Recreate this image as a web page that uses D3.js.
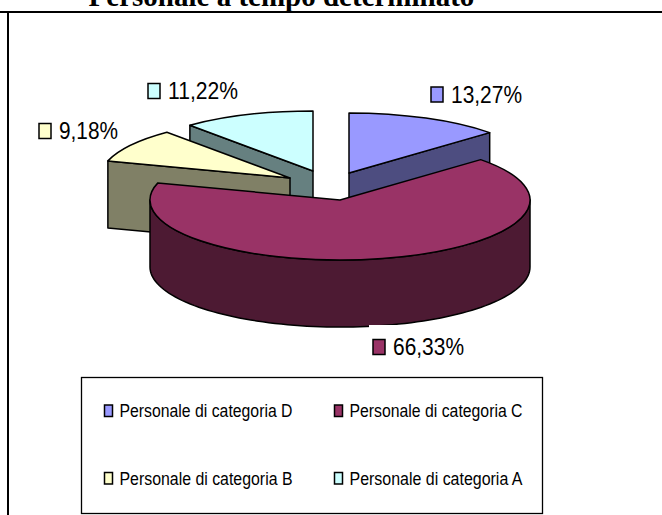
<!DOCTYPE html>
<html>
<head>
<meta charset="utf-8">
<script src="https://cdn.jsdelivr.net/npm/d3@7"></script>
<style>
  html, body { margin: 0; padding: 0; background: #fff; }
  svg { display: block; }
  text { font-family: "Liberation Sans", Arial, sans-serif; fill: #000; }
</style>
</head>
<body>
<svg id="chart" width="662" height="515"></svg>
<script>
const categories = ["Personale di categoria D", "Personale di categoria C", "Personale di categoria B", "Personale di categoria A"];
const values = [13.27, 66.33, 9.18, 11.22];
const valueLabels = ["13,27%", "66,33%", "9,18%", "11,22%"];
const topColors = ["#9999ff", "#993366", "#ffffcc", "#ccffff"];
const sideColors = ["#4d4d80", "#4d1a33", "#808066", "#668080"];
const titleText = "Personale a tempo determinato";

const radius = 190, tilt = 0.316, depth = 67;
// where each exploded slice has its tip
const apex = [[349, 173], [340, 200], [290, 178], [313, 171]];
// label swatch corner and text width
const labelPos = [[431, 87, 71], [373, 339.5, 71], [39, 123.5, 59], [148, 83.5, 70]];

const svg = d3.select("#chart");

// frame
svg.append("line").attr("x1", 0).attr("x2", 662).attr("y1", 12).attr("y2", 12)
  .attr("stroke", "#000").attr("stroke-width", 2);
svg.append("line").attr("x1", 8).attr("x2", 8).attr("y1", 12).attr("y2", 515)
  .attr("stroke", "#000").attr("stroke-width", 2);

svg.append("text").attr("x", 281.5).attr("y", 5.5)
  .attr("text-anchor", "middle")
  .style("font-family", "'Liberation Serif', 'Times New Roman', serif")
  .style("font-weight", "bold").style("font-size", "29px")
  .text(titleText);

const slices = d3.pie().sort(null)(values);
const arc = d3.arc().innerRadius(0).outerRadius(radius);

function project(i, angle, r, z) {
  return [apex[i][0] + r * Math.sin(angle), apex[i][1] - r * tilt * Math.cos(angle) + z];
}

// radial cut face of a slice, seen from the front
function cutFace(i, angle) {
  const tip = project(i, angle, 0, 0), rim = project(i, angle, radius, 0);
  return d3.line()([tip, rim, [rim[0], rim[1] + depth], [tip[0], tip[1] + depth]]) + "Z";
}

// outer wall along the front half of the ellipse
function outerWall(i) {
  const angles = d3.range(Math.PI / 2, Math.PI * 1.5 + 0.001, Math.PI / 90);
  const upper = angles.map(a => project(i, a, radius, 0));
  const lower = angles.map(a => project(i, a, radius, depth)).reverse();
  return d3.line()(upper.concat(lower)) + "Z";
}

const drawSlice = (i, faceAngle) => {
  const g = svg.append("g");
  g.append("path").attr("d", faceAngle !== null ? cutFace(i, faceAngle) : outerWall(i))
    .attr("fill", sideColors[i]).attr("stroke", "#000").attr("stroke-width", 1.5).attr("stroke-linejoin", "round");
  g.append("path").attr("d", arc(slices[i]))
    .attr("transform", `translate(${apex[i][0]},${apex[i][1]}) scale(1,${tilt})`)
    .attr("fill", topColors[i]).attr("stroke", "#000").attr("stroke-width", 1.5)
    .attr("stroke-linejoin", "round").attr("vector-effect", "non-scaling-stroke");
};

// back to front
drawSlice(0, slices[0].endAngle);
drawSlice(3, slices[3].startAngle);
drawSlice(2, slices[2].startAngle);
drawSlice(1, null);

// value labels, the 66,33% one has a white box that bites into the pie
valueLabels.forEach((d, i) => {
  const [x, y, w] = labelPos[i];
  const g = svg.append("g").attr("transform", `translate(${x},${y})`);
  if (i === 1) {
    g.append("rect").attr("x", -4).attr("y", -14.5).attr("width", 100).attr("height", 40).attr("fill", "#fff");
  }
  g.append("rect").attr("width", 12).attr("height", 15)
    .attr("fill", topColors[i]).attr("stroke", "#000").attr("stroke-width", 1.5);
  g.append("text").attr("x", 20).attr("y", 15.5).style("font-size", "23px")
    .attr("textLength", w).attr("lengthAdjust", "spacingAndGlyphs").text(d);
});

// legend
const legendX = d3.scalePoint().domain([0, 1]).range([104.5, 334.5]);
const legendY = d3.scalePoint().domain([0, 1]).range([405, 472.5]);
svg.append("rect").attr("x", 81.5).attr("y", 377.5).attr("width", 461).attr("height", 136)
  .attr("fill", "#fff").attr("stroke", "#000").attr("stroke-width", 1.3);
const items = svg.selectAll("g.item").data(categories).enter().append("g")
  .attr("class", "item")
  .attr("transform", (d, i) => `translate(${legendX(i % 2)},${legendY(Math.floor(i / 2))})`);
items.append("rect").attr("width", 8).attr("height", 11.5)
  .attr("fill", (d, i) => topColors[i]).attr("stroke", "#000").attr("stroke-width", 1.5);
items.append("text").attr("x", 15).attr("y", 12).style("font-size", "17.5px")
  .attr("textLength", 173).attr("lengthAdjust", "spacingAndGlyphs").text(d => d);
</script>
</body>
</html>
